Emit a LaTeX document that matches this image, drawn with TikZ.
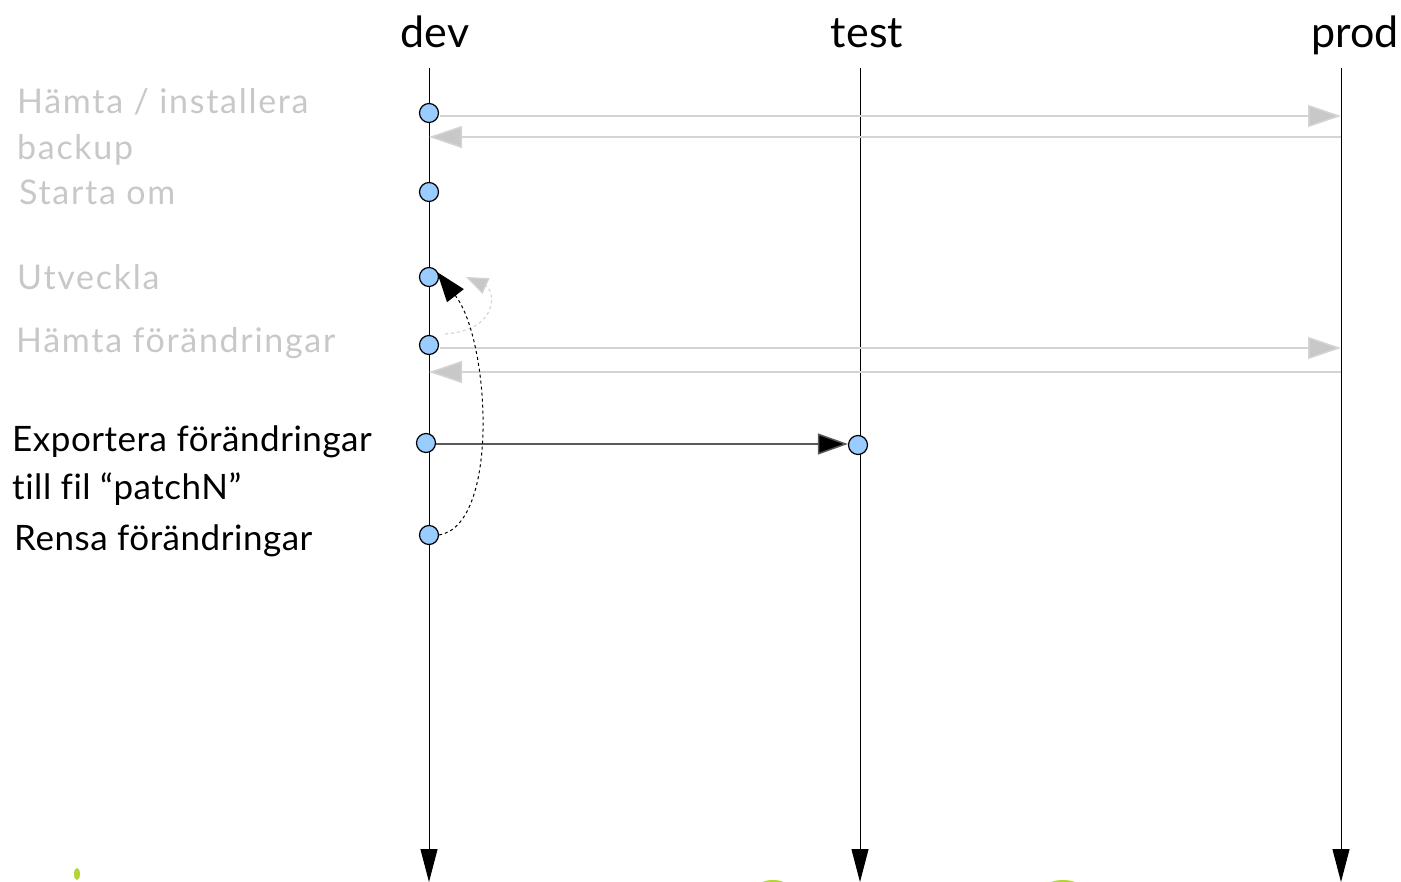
\documentclass[tikz,border=0pt]{standalone}
\usepackage{fontspec}
\setmainfont{Lato}[Ligatures=NoCommon]
\usetikzlibrary{arrows.meta}
\definecolor{evtblue}{HTML}{99CCFF}
\definecolor{faint}{HTML}{C8C8C8}
\definecolor{faintline}{HTML}{D4D4D4}
\definecolor{lime}{HTML}{B4D43A}
\begin{document}
\begin{tikzpicture}[x=1pt, y=-1pt,
  evt/.style={circle, draw=black, fill=evtblue, line width=1.2pt, minimum size=19pt, inner sep=0pt},
  head/.style={font=\fontsize{43}{43}\selectfont, anchor=base},
  oldtxt/.style={font=\fontsize{34}{36}\selectfont\addfontfeature{LetterSpace=5}, text=faint, anchor=base west, inner sep=0pt},
  newtxt/.style={font=\fontsize{35}{38}\selectfont\addfontfeature{LetterSpace=1.5}, text=black, anchor=base west, inner sep=0pt},
  life/.style={line width=1pt, -{Triangle[length=33pt, width=17pt]}},
  oldmsg/.style={draw=faintline, line width=1.5pt, -{Triangle[length=33pt, width=22pt, fill=faint]}},
  newmsg/.style={draw=black!65, line width=1.5pt, -{Triangle[length=30pt, width=21pt, fill=black]}}]
\useasboundingbox (0,0) rectangle (1401,882);

% green leftovers at the bottom edge
\fill[lime] (77,874) ellipse (3 and 6);
\fill[lime] (773,888) ellipse (16 and 8);
\fill[lime] (1063,888) ellipse (18 and 8);

% lifelines
\node[head] (dev) at (435,48) {dev};
\node[head] (test) at (867,48) {test};
\node[head] (prod) at (1355,48) {prod};
\coordinate (devtop) at (429,68);   \coordinate (devend) at (429,882);
\coordinate (testtop) at (860,68);  \coordinate (testend) at (860,882);
\coordinate (prodtop) at (1341,68); \coordinate (prodend) at (1341,882);
\draw[life] (devtop)--(devend);
\draw[life] (testtop)--(testend);
\draw[life] (prodtop)--(prodend);

% messages
\coordinate (p1) at (1341,116); \coordinate (p1b) at (1341,137); \coordinate (d1b) at (429,137);
\coordinate (p2) at (1341,348); \coordinate (p2b) at (1341,372); \coordinate (d2b) at (429,372);
\draw[oldmsg] (440,116)--(p1);
\draw[oldmsg] (p1b)--(d1b);
\draw[oldmsg] (440,348)--(p2);
\draw[oldmsg] (p2b)--(d2b);

% events
\node[evt] (backup) at (429,113) {};
\node[evt] (restart) at (429,192) {};
\node[evt] (develop) at (429,277) {};
\node[evt] (fetch) at (429,345) {};
\node[evt] (export) at (426,443) {};
\node[evt] (clean) at (429,535) {};
\node[evt] (patch) at (858,445) {};
\draw[newmsg] (export.east |- 0,444)--(patch.west |- 0,444);

% loops back to Utveckla
\draw[faintline, line width=1.2pt, dash pattern=on 3pt off 3pt, -{Triangle[length=22pt, width=17pt, fill=faint]}]
  (445,334) .. controls (500,330) and (495,290) .. (466,277);
\draw[black, line width=1pt, dash pattern=on 3pt off 3pt, -{Triangle[length=30pt, width=21pt, fill=black]}]
  (clean.east) .. controls (500,525) and (490,340) .. (437,272);

% labels
\node[oldtxt] (l1) at (17,114) {Hämta / installera};
\node[oldtxt] (l2) at (17,160) {backup};
\node[oldtxt] (l3) at (19,205) {Starta om};
\node[oldtxt] (l4) at (17,290) {Utveckla};
\node[oldtxt] (l5) at (16,353) {Hämta förändringar};
\node[newtxt] (l6) at (12,452) {Exportera förändringar};
\node[newtxt] (l7) at (12,500) {till fil “patchN”};
\node[newtxt] (l8) at (14,550) {Rensa förändringar};
\end{tikzpicture}
\end{document}
